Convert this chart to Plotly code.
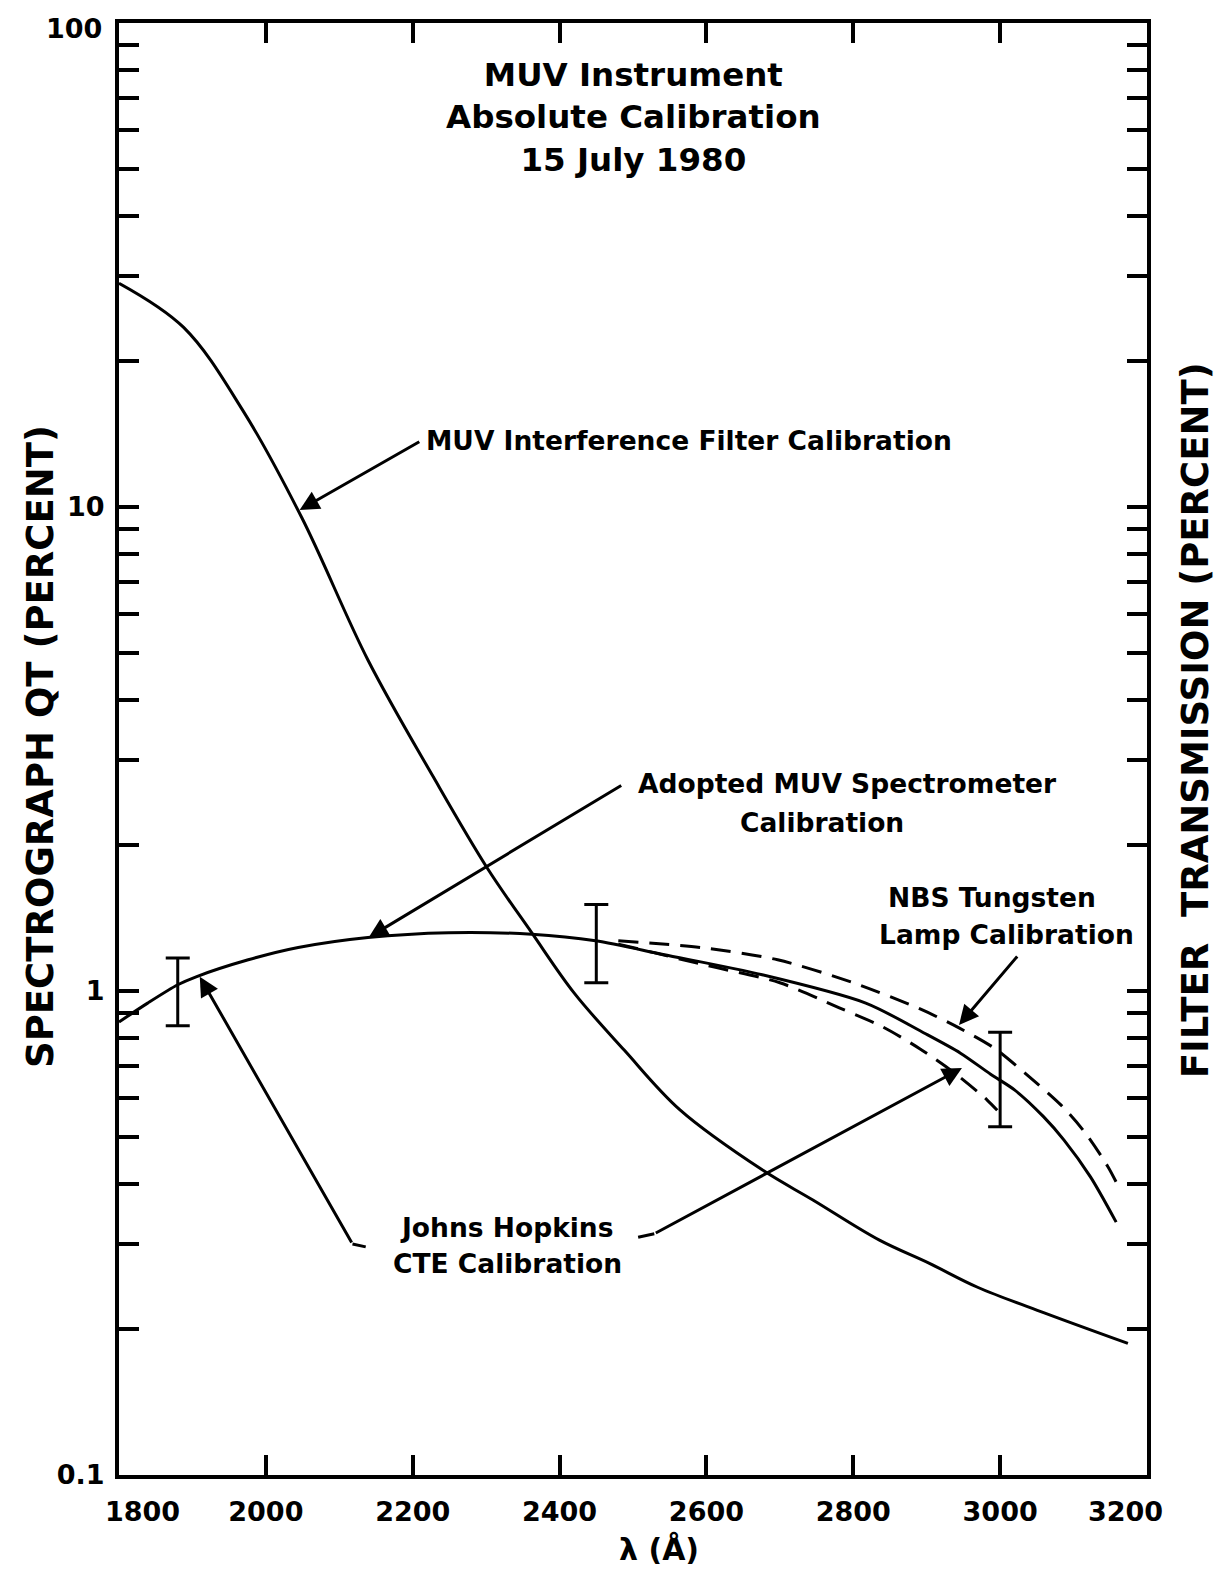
import math
import plotly.graph_objects as go

# ---------------- data ----------------
filter_wl = [1800, 1888, 1969, 2049, 2139, 2228, 2301, 2362, 2420, 2488, 2564,
             2677, 2745, 2835, 2903, 2970, 3061, 3174]
filter_val = [29.0, 23.5, 15.8, 9.5, 4.83, 2.77, 1.80, 1.32, 0.99, 0.755, 0.568,
              0.426, 0.370, 0.306, 0.274, 0.244, 0.216, 0.187]

adopted_wl = [1800, 1839, 1880, 1905, 1976, 2044, 2139, 2249, 2362, 2449, 2541, 2676,
              2817, 2897, 2946, 2987, 3020, 3059, 3087, 3123, 3158]
adopted_val = [0.863, 0.944, 1.03, 1.07, 1.16, 1.23, 1.29, 1.32, 1.31, 1.27, 1.19, 1.08,
               0.944, 0.818, 0.744, 0.673, 0.624, 0.550, 0.492, 0.413, 0.333]

nbs_upper_wl = [2480, 2592, 2697, 2800, 2891, 2944, 2992, 3037, 3083, 3116, 3147, 3158]
nbs_upper_val = [1.27, 1.23, 1.16, 1.04, 0.918, 0.839, 0.762, 0.670, 0.581, 0.509, 0.433, 0.403]

nbs_lower_wl = [2480, 2600, 2700, 2781, 2840, 2891, 2939, 2982, 2996]
nbs_lower_val = [1.25, 1.13, 1.04, 0.923, 0.843, 0.759, 0.675, 0.596, 0.567]

errbar_wl = [1880, 2450, 3000]
errbar_high = [1.17, 1.51, 0.822]
errbar_low = [0.848, 1.04, 0.524]

x_tick_vals = [1800, 2000, 2200, 2400, 2600, 2800, 3000, 3200]
y_decades = [0.1, 1, 10, 100]
y_decade_labels = ["0.1", "1", "10", "100"]

FONT = "DejaVu Sans"
BLACK = "#000000"
ANN_SIZE = 26.5
TICK_SIZE = 27

fig = go.Figure()

fig.add_trace(go.Scatter(x=filter_wl, y=filter_val, mode="lines",
                         line=dict(color=BLACK, width=3, shape="spline", smoothing=1.0),
                         hoverinfo="skip"))
fig.add_trace(go.Scatter(x=adopted_wl, y=adopted_val, mode="lines",
                         line=dict(color=BLACK, width=3, shape="spline", smoothing=0.8),
                         hoverinfo="skip"))
fig.add_trace(go.Scatter(x=nbs_upper_wl, y=nbs_upper_val, mode="lines",
                         line=dict(color=BLACK, width=3, shape="spline", smoothing=0.8,
                                   dash="20px,11px"),
                         hoverinfo="skip"))
fig.add_trace(go.Scatter(x=nbs_lower_wl, y=nbs_lower_val, mode="lines",
                         line=dict(color=BLACK, width=3, shape="spline", smoothing=0.8,
                                   dash="20px,11px"),
                         hoverinfo="skip"))

# error bars (geometric centre between the caps)
eb_mid = [math.sqrt(h * l) for h, l in zip(errbar_high, errbar_low)]
fig.add_trace(go.Scatter(
    x=errbar_wl, y=eb_mid, mode="markers",
    marker=dict(size=1, color="rgba(0,0,0,0)"),
    error_y=dict(type="data", symmetric=False,
                 array=[h - m for h, m in zip(errbar_high, eb_mid)],
                 arrayminus=[m - l for m, l in zip(eb_mid, errbar_low)],
                 thickness=3, width=12, color=BLACK),
    hoverinfo="skip"))

# small hooks at the tails of the Johns Hopkins leader lines
jh_hook_left_wl = [2118, 2136]
jh_hook_left_val = [0.300, 0.296]
jh_hook_right_wl = [2507, 2529]
jh_hook_right_val = [0.310, 0.315]
for hx, hy in ((jh_hook_left_wl, jh_hook_left_val), (jh_hook_right_wl, jh_hook_right_val)):
    fig.add_trace(go.Scatter(x=hx, y=hy, mode="lines",
                             line=dict(color=BLACK, width=3), hoverinfo="skip"))

# ---------------- axes ----------------
y_tick_vals, y_tick_text = [], []
for d, lab in zip(y_decades[:-1], y_decade_labels[:-1]):
    for k in range(1, 10):
        y_tick_vals.append(d * k)
        y_tick_text.append(lab if k == 1 else "")
y_tick_vals.append(y_decades[-1])
y_tick_text.append("")  # top label drawn as an annotation (would be clipped otherwise)

x_tick_text = ["" if v in (x_tick_vals[0], x_tick_vals[-1]) else str(v) for v in x_tick_vals]

axis_common = dict(showline=True, linewidth=4, linecolor=BLACK, mirror="ticks",
                   ticks="inside", ticklen=20, tickwidth=3.5, tickcolor=BLACK,
                   showgrid=False, zeroline=False,
                   tickfont=dict(family=FONT, size=TICK_SIZE, color=BLACK, weight="bold"))

fig.update_xaxes(range=[1800, 3200], tickmode="array", tickvals=x_tick_vals,
                 ticktext=x_tick_text, ticklabelstandoff=10, **axis_common)
fig.update_yaxes(type="log", range=[-1, 2], tickmode="array", tickvals=y_tick_vals,
                 ticktext=y_tick_text, ticklabelstandoff=5, **axis_common)

annotations = []


def txt(text, x, y, size=ANN_SIZE, xanchor="center", xref="x", yref="y", **kw):
    yy = math.log10(y) if yref == "y" else y
    annotations.append(dict(text=text, x=x, y=yy, xref=xref, yref=yref, showarrow=False,
                            xanchor=xanchor, yanchor="middle",
                            font=dict(family=FONT, size=size, color=BLACK, weight="bold"),
                            **kw))


def arrow(tip_x, tip_y, tail_x, tail_y):
    annotations.append(dict(text="", x=tip_x, y=math.log10(tip_y), ax=tail_x,
                            ay=math.log10(tail_y), xref="x", yref="y", axref="x", ayref="y",
                            showarrow=True, arrowhead=2, arrowsize=1.3, arrowwidth=3,
                            arrowcolor=BLACK, standoff=0, startstandoff=0))


# end tick labels on the x axis (shifted inward like the original)
for v, shift in ((x_tick_vals[0], 23), (x_tick_vals[-1], -22)):
    annotations.append(dict(text=str(v), x=v, y=0, xref="x", yref="paper",
                            showarrow=False, xanchor="center", yanchor="top",
                            xshift=shift, yshift=-19,
                            font=dict(family=FONT, size=TICK_SIZE, color=BLACK, weight="bold")))

# top y tick label
annotations.append(dict(text=y_decade_labels[-1], x=0, y=math.log10(y_decades[-1]),
                        xref="paper", yref="y", showarrow=False, xanchor="right",
                        yanchor="middle", xshift=-16, yshift=-5, borderpad=0,
                        font=dict(family=FONT, size=TICK_SIZE, color=BLACK, weight="bold")))

# title block
txt("MUV Instrument<br>Absolute Calibration<br>15 July 1980", 0.5, 0.935, size=32.5,
    xref="paper", yref="paper")

# axis titles
txt("SPECTROGRAPH QT (PERCENT)", -0.077, 0.502, size=37, xref="paper", yref="paper",
    textangle=-90)
txt("FILTER\u00a0\u00a0TRANSMISSION (PERCENT)", 1.048, 0.520, size=37, xref="paper",
    yref="paper", textangle=-90)
txt("λ (Å)", 0.525, -0.051, size=30, xref="paper", yref="paper")

# curve labels
txt("MUV Interference Filter Calibration", 2216, 13.7, xanchor="left")
txt("Adopted MUV Spectrometer", 2792, 2.68)
txt("Calibration", 2758, 2.23)
txt("NBS Tungsten", 2989, 1.56)
txt("Lamp Calibration", 3009, 1.31)
txt("Johns Hopkins", 2328, 0.325)
txt("CTE Calibration", 2329, 0.274)

# leader arrows
arrow(2046, 9.86, 2211, 13.7)
arrow(2140, 1.29, 2486, 2.67)
arrow(2944, 0.851, 3025, 1.187)
arrow(1910, 1.07, jh_hook_left_wl[0], jh_hook_left_val[0])
arrow(2948, 0.693, jh_hook_right_wl[1], jh_hook_right_val[1])

# the page body adds an 8px offset, so the figure is 8px smaller and margins compensate
fig.update_layout(width=1214, height=1569, margin=dict(l=111, r=75, t=15, b=102),
                  paper_bgcolor="white", plot_bgcolor="white", showlegend=False,
                  annotations=annotations)

fig.write_html("out.html")
